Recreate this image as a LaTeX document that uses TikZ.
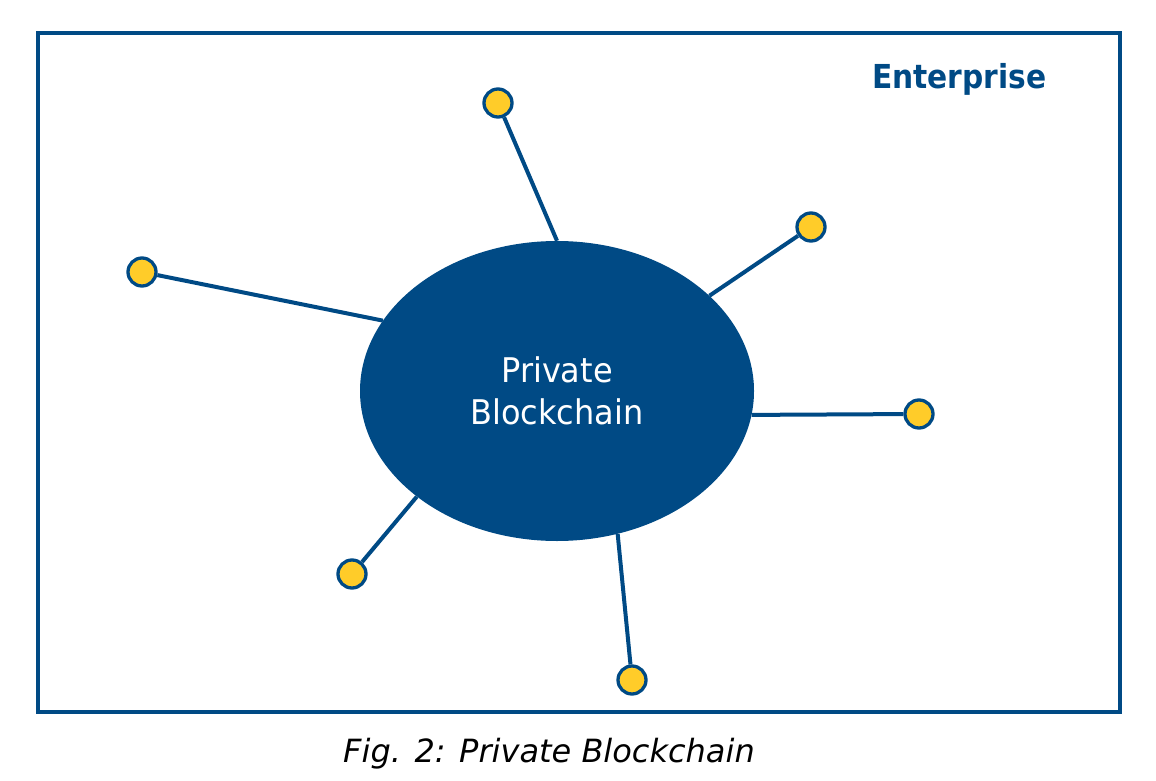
\documentclass[tikz,border=0pt]{standalone}
\usepackage{fontspec}
\setmainfont{DejaVu Sans}
\newfontfamily\innerfont[FakeStretch=0.94]{DejaVu Sans}
\newfontfamily\titlefont[FakeStretch=0.9]{DejaVu Sans Bold}
\usetikzlibrary{shapes.geometric}
\definecolor{navy}{RGB}{0,74,133}
\definecolor{gold}{RGB}{255,204,41}
\tikzset{
  frame/.style={draw=navy, line width=4.5pt},
  chainnode/.style={ellipse, fill=navy, minimum width=394pt, minimum height=300pt, inner sep=0pt,
    text=white, align=center, font=\innerfont\fontsize{34}{42}\selectfont},
  peer/.style={circle, draw=navy, fill=gold, line width=3.3pt, minimum size=28pt, inner sep=0pt},
  link/.style={draw=navy, line width=4pt},
  title/.style={text=navy, font=\titlefont\fontsize{33}{38}\selectfont, inner sep=0pt, anchor=base west},
  caption/.style={text=black, font=\fontsize{32}{36}\selectfont\itshape, inner sep=0pt, anchor=base west}
}
\begin{document}
\begin{tikzpicture}[x=1pt,y=-1pt]
\useasboundingbox (0,0) rectangle (1156,781);
\draw[frame] (38,33) rectangle (1120,712);
\node[chainnode] (chain) at (557,391) {Private\\Blockchain};
\node[peer] (p1) at (498,103) {};
\node[peer] (p2) at (811,227) {};
\node[peer] (p3) at (142,272) {};
\node[peer] (p4) at (919,414) {};
\node[peer] (p5) at (352,574) {};
\node[peer] (p6) at (632,680) {};
\draw[link] (p1) -- (chain.90);
\draw[link] (p2) -- (chain.32);
\draw[link] (p3) -- (chain.158.7);
\draw[link] (p4) -- (chain.-7.6);
\draw[link] (p5) -- (chain.217.3);
\draw[link] (p6) -- (chain.293.6);
\node[title] (ent) at (872,89) {Enterprise};
\node[caption] (cap) at (343,762) {Fig. 2: Private Blockchain};
\end{tikzpicture}
\end{document}
